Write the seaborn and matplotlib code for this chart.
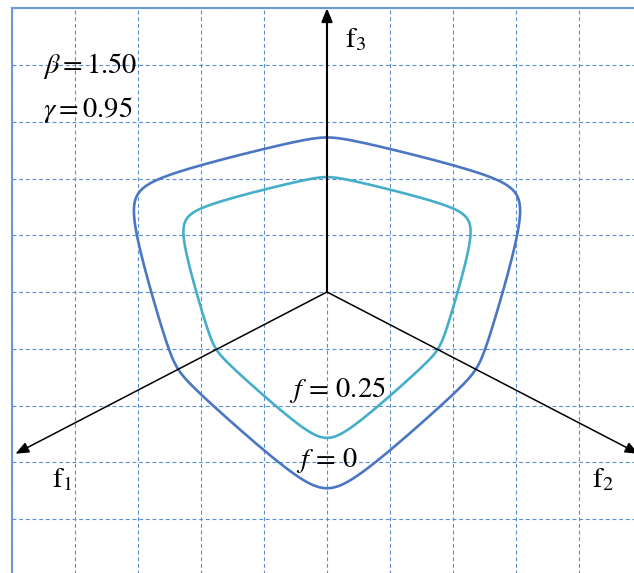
import numpy as np
import pandas as pd
import matplotlib
matplotlib.use("Agg")
import matplotlib.pyplot as plt
import seaborn as sns

# Bigoni-Piccolroaz deviatoric shape parameters
BETA = 1.50
GAMMA = 0.95

# radial scale of each deviatoric section (grid units)
levels = ["f = 0", "f = 0.25"]
level_scale = [2.69, 2.00]
level_colors = ["#4A76C2", "#45AEC8"]

# principal stress axes: name, direction (deg), length (grid units)
axis_names = ["f1", "f2", "f3"]
axis_angles = [210.0, 330.0, 90.0]
axis_lengths = [5.7, 5.7, 5.0]
axis_widths = [1.1, 1.1, 1.5]


def deviatoric_g(phi):
    """Deviatoric radius factor for polar angle phi (corners at 30, 150, 270 deg)."""
    cos3theta = np.sin(3.0 * phi)
    return 1.0 / np.cos(BETA * np.pi / 6.0 - np.arccos(GAMMA * cos3theta) / 3.0)


phi = np.radians(np.arange(0.0, 360.5, 0.5))
frames = []
for name, scale in zip(levels, level_scale):
    r = scale * deviatoric_g(phi)
    frames.append(pd.DataFrame({"x": r * np.cos(phi), "y": r * np.sin(phi),
                                "level": name, "order": np.arange(len(phi))}))
curves = pd.concat(frames, ignore_index=True)

sns.set_style("white")
plt.rcParams["mathtext.fontset"] = "stix"

W, H = 634, 573
fig = plt.figure(figsize=(W / 100, H / 100), dpi=100)
ax = fig.add_axes([11.5 / W, (H - 575.75) / H, 631 / W, 567.5 / H])
ax.set_xlim(-5, 5)
ax.set_ylim(-5, 5)

# dashed blue grid
ax.set_xticks(np.arange(-5, 6))
ax.set_yticks(np.arange(-5, 6))
ax.tick_params(length=0, labelbottom=False, labelleft=False)
ax.grid(True, color="#5B8DD2", linewidth=0.8, linestyle=(0, (3.5, 2.5)))
ax.set_axisbelow(True)
for side in ["left", "top", "right", "bottom"]:
    ax.spines[side].set_color("#6A99D8")
    ax.spines[side].set_linewidth(1.5)

sns.lineplot(data=curves, x="x", y="y", hue="level", palette=level_colors,
             hue_order=levels, sort=False, estimator=None, units="level",
             linewidth=1.9, legend=False, ax=ax, zorder=3)
ax.set_xlabel("")
ax.set_ylabel("")

# principal axes with arrow heads
for name, ang, length, lw in zip(axis_names, axis_angles, axis_lengths, axis_widths):
    a = np.radians(ang)
    tip = (length * np.cos(a), length * np.sin(a))
    ax.annotate("", xy=tip, xytext=(0, 0), annotation_clip=False,
                arrowprops=dict(arrowstyle="-|>,head_length=0.8,head_width=0.33",
                                mutation_scale=10, color="black", lw=lw,
                                shrinkA=0, shrinkB=0), zorder=4)

label_kw = dict(ha="left", va="baseline", color="black", zorder=5)
ax.text(0.28, 4.32, r"$\mathrm{f}_{3}$", fontsize=21, **label_kw)
ax.text(-4.36, -3.44, r"$\mathrm{f}_{1}$", fontsize=21, **label_kw)
ax.text(4.20, -3.44, r"$\mathrm{f}_{2}$", fontsize=21, **label_kw)

ax.text(-4.50, 3.86, r"$\beta = %.2f$" % BETA, fontsize=20.5, **label_kw)
ax.text(-4.50, 3.08, r"$\gamma = %.2f$" % GAMMA, fontsize=20.5, **label_kw)

ax.text(-0.60, -1.85, r"$f\,=\,0.25$", fontsize=20.5, **label_kw)
ax.text(-0.49, -3.08, r"$f\,=\,0$", fontsize=20.5, **label_kw)

fig.savefig("out.png", dpi=100)
